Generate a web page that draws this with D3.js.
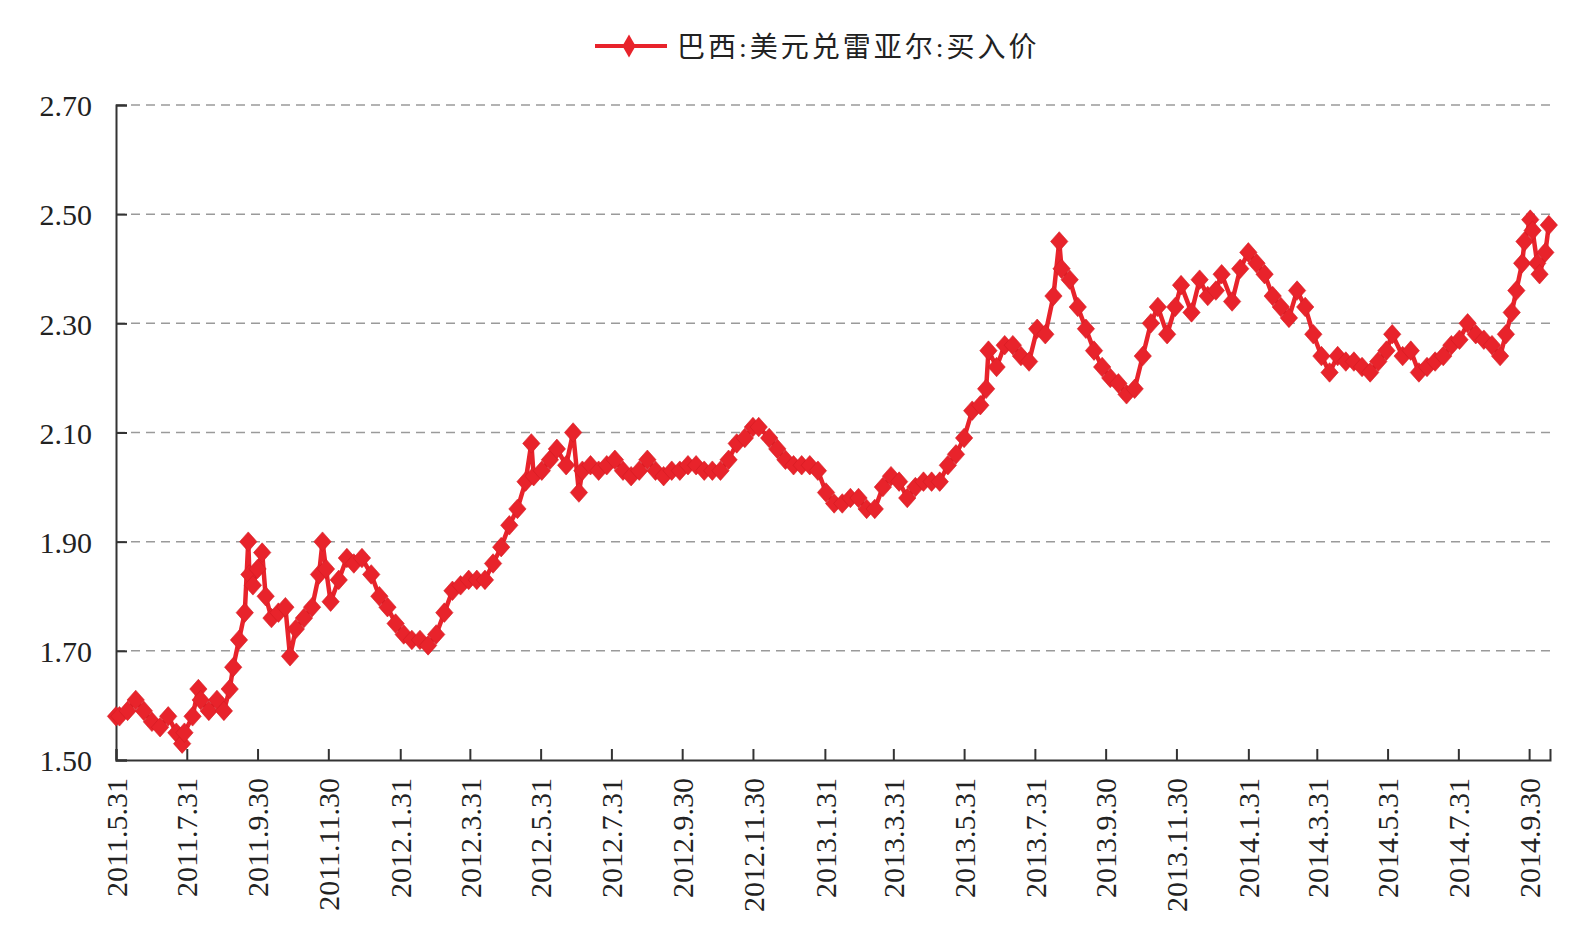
<!DOCTYPE html>
<html>
<head>
<meta charset="utf-8">
<script src="https://cdn.jsdelivr.net/npm/d3@7"></script>
<style>
  body { margin: 0; background: #fff; }
  .axis-label { font-family: "Liberation Serif", "Times New Roman", serif; font-size: 30px; fill: #222; }
  .legend-text { font-family: "Liberation Serif", "Noto Sans CJK SC", serif; font-size: 28px; fill: #222; letter-spacing: 3px; }
</style>
</head>
<body>
<svg id="chart"></svg>
<script>
// 巴西:美元兑雷亚尔:买入价, weekly readings
var dates = [
  "2011-05-31","2011-06-03","2011-06-10","2011-06-17","2011-06-24",
  "2011-07-01","2011-07-08","2011-07-15","2011-07-22","2011-07-27","2011-07-29",
  "2011-08-05","2011-08-10","2011-08-12","2011-08-19","2011-08-26",
  "2011-09-01","2011-09-06","2011-09-09","2011-09-14","2011-09-19","2011-09-22","2011-09-23","2011-09-26","2011-09-30",
  "2011-10-04","2011-10-07","2011-10-12","2011-10-18","2011-10-24","2011-10-28",
  "2011-11-02","2011-11-09","2011-11-16","2011-11-22","2011-11-25","2011-11-28",
  "2011-12-02","2011-12-09","2011-12-16","2011-12-22","2011-12-29",
  "2012-01-06","2012-01-13","2012-01-20","2012-01-27",
  "2012-02-03","2012-02-10","2012-02-17","2012-02-24",
  "2012-03-02","2012-03-09","2012-03-16","2012-03-23","2012-03-30",
  "2012-04-06","2012-04-13","2012-04-20","2012-04-27",
  "2012-05-04","2012-05-11","2012-05-18","2012-05-23","2012-05-25",
  "2012-06-01","2012-06-08","2012-06-14","2012-06-22","2012-06-28",
  "2012-07-03","2012-07-06","2012-07-13","2012-07-20","2012-07-27",
  "2012-08-03","2012-08-10","2012-08-17","2012-08-24","2012-08-31",
  "2012-09-07","2012-09-14","2012-09-21","2012-09-28",
  "2012-10-05","2012-10-12","2012-10-19","2012-10-26",
  "2012-11-02","2012-11-09","2012-11-16","2012-11-23","2012-11-30",
  "2012-12-05","2012-12-14","2012-12-21","2012-12-28",
  "2013-01-04","2013-01-11","2013-01-18","2013-01-25",
  "2013-02-01","2013-02-08","2013-02-15","2013-02-22",
  "2013-03-01","2013-03-08","2013-03-15","2013-03-22","2013-03-29",
  "2013-04-05","2013-04-12","2013-04-19","2013-04-26",
  "2013-05-03","2013-05-10","2013-05-17","2013-05-24","2013-05-31",
  "2013-06-07","2013-06-14","2013-06-19","2013-06-21","2013-06-28",
  "2013-07-05","2013-07-12","2013-07-19","2013-07-26",
  "2013-08-02","2013-08-09","2013-08-16","2013-08-21","2013-08-23","2013-08-30",
  "2013-09-06","2013-09-13","2013-09-20","2013-09-27",
  "2013-10-04","2013-10-11","2013-10-18","2013-10-25",
  "2013-11-01","2013-11-08","2013-11-14","2013-11-22","2013-11-29",
  "2013-12-04","2013-12-13","2013-12-20","2013-12-27",
  "2014-01-03","2014-01-08","2014-01-17","2014-01-24","2014-01-31",
  "2014-02-07","2014-02-14","2014-02-21","2014-02-28",
  "2014-03-07","2014-03-14","2014-03-21","2014-03-28",
  "2014-04-04","2014-04-11","2014-04-18","2014-04-25",
  "2014-05-02","2014-05-09","2014-05-16","2014-05-23","2014-05-30",
  "2014-06-04","2014-06-13","2014-06-20","2014-06-27",
  "2014-07-04","2014-07-11","2014-07-18","2014-07-25",
  "2014-08-01","2014-08-08","2014-08-15","2014-08-22","2014-08-29",
  "2014-09-05","2014-09-10","2014-09-15","2014-09-19","2014-09-24","2014-09-26",
  "2014-10-01","2014-10-03","2014-10-07","2014-10-09","2014-10-14","2014-10-17"
];

var rates = [
  1.58,1.58,1.59,1.61,1.59,
  1.57,1.56,1.58,1.55,1.53,1.55,
  1.58,1.63,1.61,1.59,1.61,
  1.59,1.63,1.67,1.72,1.77,1.90,1.84,1.82,1.85,
  1.88,1.80,1.76,1.77,1.78,1.69,
  1.74,1.76,1.78,1.84,1.90,1.85,
  1.79,1.83,1.87,1.86,1.87,
  1.84,1.80,1.78,1.75,
  1.73,1.72,1.72,1.71,
  1.73,1.77,1.81,1.82,1.83,
  1.83,1.83,1.86,1.89,
  1.93,1.96,2.01,2.08,2.02,
  2.03,2.05,2.07,2.04,2.10,
  1.99,2.03,2.04,2.03,2.04,
  2.05,2.03,2.02,2.03,2.05,
  2.03,2.02,2.03,2.03,
  2.04,2.04,2.03,2.03,
  2.03,2.05,2.08,2.09,2.11,
  2.11,2.09,2.07,2.05,
  2.04,2.04,2.04,2.03,
  1.99,1.97,1.97,1.98,
  1.98,1.96,1.96,2.00,2.02,
  2.01,1.98,2.00,2.01,
  2.01,2.01,2.04,2.06,2.09,
  2.14,2.15,2.18,2.25,2.22,
  2.26,2.26,2.24,2.23,
  2.29,2.28,2.35,2.45,2.40,2.38,
  2.33,2.29,2.25,2.22,
  2.20,2.19,2.17,2.18,
  2.24,2.30,2.33,2.28,2.33,
  2.37,2.32,2.38,2.35,
  2.36,2.39,2.34,2.40,2.43,
  2.41,2.39,2.35,2.33,
  2.31,2.36,2.33,2.28,
  2.24,2.21,2.24,2.23,
  2.23,2.22,2.21,2.23,2.25,
  2.28,2.24,2.25,2.21,
  2.22,2.23,2.24,2.26,
  2.27,2.30,2.28,2.27,2.26,
  2.24,2.28,2.32,2.36,2.41,2.45,
  2.49,2.47,2.41,2.39,2.43,2.48
];

var xTickLabels = ["2011.5.31","2011.7.31","2011.9.30","2011.11.30","2012.1.31","2012.3.31",
                   "2012.5.31","2012.7.31","2012.9.30","2012.11.30","2013.1.31","2013.3.31",
                   "2013.5.31","2013.7.31","2013.9.30","2013.11.30","2014.1.31","2014.3.31",
                   "2014.5.31","2014.7.31","2014.9.30"];
var yTicks = [1.50, 1.70, 1.90, 2.10, 2.30, 2.50, 2.70];
var seriesName = "巴西:美元兑雷亚尔:买入价";

//Graph settings
var screen = {width: 1586, height: 948};
var margins = {top: 105, bottom: 188, left: 116, right: 36};
var red = "#e8232b";

var parseDate = d3.utcParse("%Y-%m-%d");
var parseTick = d3.utcParse("%Y.%m.%d");

var points = dates.map(function(d, i){ return {date: parseDate(d), value: rates[i]}; });
if (dates.length !== rates.length) console.log("length mismatch", dates.length, rates.length);

var svg = d3.select("#chart")
            .attr("width", screen.width)
            .attr("height", screen.height);

var xScale = d3.scaleUtc()
               .domain([parseDate("2011-05-31"), parseDate("2014-10-18")])
               .range([margins.left, screen.width - margins.right]);

var yScale = d3.scaleLinear()
               .domain([1.5, 2.7])
               .range([screen.height - margins.bottom, margins.top]);

//dashed grid lines
svg.append("g")
   .selectAll("line")
   .data(yTicks.slice(1))
   .enter()
   .append("line")
   .attr("x1", margins.left)
   .attr("x2", screen.width - margins.right)
   .attr("y1", function(d){ return yScale(d); })
   .attr("y2", function(d){ return yScale(d); })
   .attr("stroke", "#9a9a9a")
   .attr("stroke-width", 1.5)
   .attr("stroke-dasharray", "9,6");

//y axis, ticks point inwards
var yAxis = d3.axisLeft(yScale)
              .tickValues(yTicks)
              .tickSize(-11)
              .tickPadding(24)
              .tickFormat(d3.format(".2f"));

var yAxisG = svg.append("g")
                .attr("transform", "translate(" + margins.left + ",0)")
                .call(yAxis);
yAxisG.select(".domain").attr("stroke", "#333").attr("stroke-width", 2);
yAxisG.selectAll(".tick line").attr("stroke", "#333").attr("stroke-width", 2);
yAxisG.selectAll(".tick text").attr("class", "axis-label").attr("dy", "0.36em");

//x axis
var xAxis = d3.axisBottom(xScale)
              .tickValues(xTickLabels.map(function(t){ return parseTick(t); }))
              .tickSize(-11)
              .tickFormat(function(d, i){ return xTickLabels[i]; });

var xAxisG = svg.append("g")
                .attr("transform", "translate(0," + (screen.height - margins.bottom) + ")")
                .call(xAxis);
xAxisG.select(".domain").attr("stroke", "#333").attr("stroke-width", 2);
xAxisG.selectAll(".tick line").attr("stroke", "#333").attr("stroke-width", 2);
xAxisG.selectAll(".tick text")
      .attr("class", "axis-label")
      .attr("transform", "rotate(-90)")
      .attr("text-anchor", "end")
      .attr("x", -18)
      .attr("y", 0)
      .attr("dy", "0.34em");

//the series line
var line = d3.line()
             .x(function(d){ return xScale(d.date); })
             .y(function(d){ return yScale(d.value); });

svg.append("path")
   .datum(points)
   .attr("d", line)
   .attr("fill", "none")
   .attr("stroke", red)
   .attr("stroke-width", 4.5)
   .attr("stroke-linejoin", "round");

//diamond markers
var diamond = {
  draw: function(context, size){
    var w = Math.sqrt(size) * 0.47, h = Math.sqrt(size) * 0.53;
    context.moveTo(0, -h);
    context.lineTo(w, 0);
    context.lineTo(0, h);
    context.lineTo(-w, 0);
    context.closePath();
  }
};
var marker = d3.symbol().type(diamond).size(340);

svg.append("g")
   .selectAll("path")
   .data(points)
   .enter()
   .append("path")
   .attr("d", marker)
   .attr("transform", function(d){ return "translate(" + xScale(d.date) + "," + yScale(d.value) + ")"; })
   .attr("fill", red)
   .attr("stroke", "#d41c24")
   .attr("stroke-width", 0.6);

//legend
var legend = svg.append("g").attr("transform", "translate(595,46)");
legend.append("line")
      .attr("x1", 0).attr("x2", 72)
      .attr("y1", 0).attr("y2", 0)
      .attr("stroke", red)
      .attr("stroke-width", 4);
legend.append("path")
      .attr("d", d3.symbol().type(d3.symbolDiamond).size(150))
      .attr("transform", "translate(34,0)")
      .attr("fill", red);
legend.append("text")
      .attr("class", "legend-text")
      .attr("x", 82)
      .attr("y", 11)
      .text(seriesName);
</script>
</body>
</html>
